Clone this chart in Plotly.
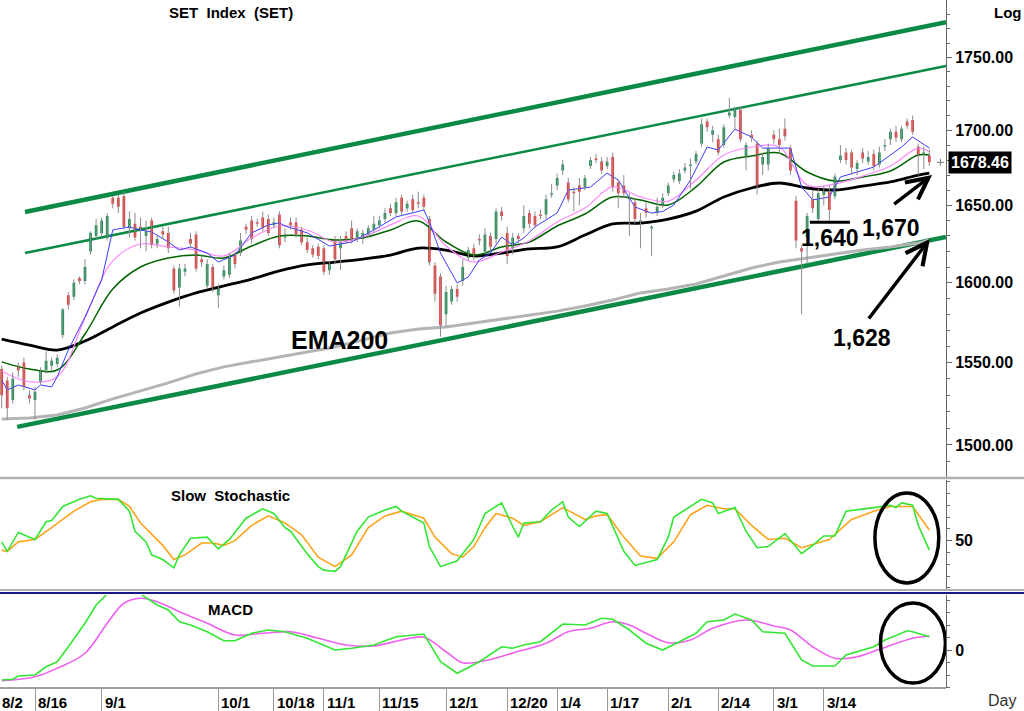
import numpy as np
import plotly.graph_objects as go

FONT = 'Liberation Sans, Arial, sans-serif'

# -------------------------------
# 1. DATA  (bar index 0 = 8/2)
# -------------------------------
bars = list(range(3, 171))

opens = [1546, 1539, 1527, 1548, 1550, 1530, 1527, 1538, 1545, 1548,
         1549, 1567, 1592, 1591, 1603, 1601, 1620, 1630, 1632, 1629,
         1655, 1655, 1656, 1635, 1638, 1636, 1630, 1640, 1625, 1633,
         1632, 1609, 1597, 1607, 1628, 1631, 1615, 1598, 1610, 1592,
         1604, 1605, 1618, 1619, 1636, 1640, 1639, 1642, 1641, 1637,
         1644, 1629, 1639, 1639, 1634, 1626, 1622, 1623, 1622, 1608,
         1628, 1622, 1630, 1635, 1628, 1628, 1631, 1634, 1637, 1641,
         1648, 1645, 1655, 1648, 1654, 1652, 1655, 1641, 1611, 1604,
         1580, 1588, 1596, 1601, 1616, 1622, 1628, 1620, 1630, 1628,
         1646, 1632, 1622, 1630, 1635, 1645, 1643, 1644, 1644, 1657,
         1663, 1673, 1665, 1659, 1663, 1662, 1676, 1681, 1679, 1676,
         1682, 1665, 1663, 1654, 1652, 1638, 1648, 1635, 1645, 1650,
         1658, 1667, 1666, 1673, 1676, 1679, 1691, 1706, 1697, 1694,
         1690, 1710, 1709, 1714, 1682, 1697, 1691, 1677, 1677, 1697,
         1694, 1701, 1688, 1653, 1622, 1629, 1654, 1641, 1657, 1659,
         1656, 1680, 1685, 1685, 1674, 1685, 1679, 1684, 1677, 1689,
         1694, 1699, 1694, 1706, 1707, 1689, 1684, 1683]
highs = [1548, 1541, 1544, 1550, 1553, 1533, 1535, 1547, 1557, 1553,
         1555, 1584, 1594, 1602, 1604, 1615, 1633, 1641, 1642, 1645,
         1656, 1657, 1659, 1646, 1645, 1642, 1640, 1642, 1630, 1636,
         1636, 1611, 1612, 1612, 1632, 1633, 1618, 1615, 1612, 1599,
         1611, 1619, 1620, 1632, 1638, 1643, 1641, 1646, 1644, 1642,
         1646, 1635, 1642, 1642, 1636, 1629, 1624, 1625, 1624, 1614,
         1630, 1630, 1633, 1640, 1635, 1634, 1637, 1643, 1643, 1648,
         1651, 1655, 1657, 1653, 1657, 1659, 1657, 1643, 1613, 1606,
         1598, 1598, 1599, 1615, 1623, 1625, 1631, 1635, 1632, 1648,
         1649, 1636, 1632, 1632, 1650, 1647, 1646, 1647, 1657, 1664,
         1671, 1680, 1668, 1662, 1668, 1670, 1682, 1684, 1682, 1682,
         1685, 1667, 1670, 1658, 1655, 1645, 1652, 1637, 1655, 1658,
         1665, 1672, 1674, 1678, 1681, 1686, 1708, 1708, 1703, 1697,
         1704, 1722, 1716, 1716, 1692, 1700, 1693, 1685, 1691, 1700,
         1701, 1708, 1690, 1656, 1624, 1645, 1660, 1661, 1663, 1663,
         1671, 1690, 1688, 1687, 1680, 1688, 1686, 1687, 1689, 1694,
         1701, 1703, 1703, 1708, 1710, 1691, 1689, 1687]
lows = [1522, 1515, 1525, 1541, 1533, 1525, 1515, 1536, 1543, 1545,
        1547, 1565, 1583, 1589, 1599, 1599, 1618, 1628, 1630, 1627,
        1648, 1645, 1634, 1629, 1627, 1622, 1620, 1622, 1622, 1628,
        1619, 1593, 1585, 1604, 1622, 1607, 1610, 1596, 1594, 1584,
        1602, 1603, 1609, 1617, 1631, 1625, 1636, 1633, 1630, 1635,
        1622, 1626, 1634, 1629, 1624, 1619, 1616, 1615, 1605, 1605,
        1612, 1608, 1625, 1625, 1626, 1625, 1629, 1632, 1635, 1639,
        1643, 1643, 1643, 1646, 1645, 1648, 1646, 1611, 1588, 1566,
        1572, 1586, 1588, 1598, 1614, 1614, 1624, 1618, 1620, 1625,
        1640, 1612, 1618, 1625, 1632, 1635, 1635, 1641, 1641, 1655,
        1660, 1670, 1652, 1646, 1650, 1660, 1674, 1678, 1671, 1674,
        1659, 1648, 1655, 1630, 1638, 1622, 1642, 1617, 1643, 1648,
        1656, 1665, 1664, 1671, 1661, 1677, 1689, 1699, 1692, 1683,
        1688, 1708, 1700, 1692, 1673, 1692, 1657, 1670, 1673, 1691,
        1684, 1693, 1670, 1622, 1580, 1612, 1645, 1639, 1650, 1640,
        1654, 1678, 1677, 1670, 1670, 1678, 1677, 1673, 1675, 1686,
        1690, 1692, 1692, 1701, 1697, 1670, 1674, 1676]
closes = [1530, 1522, 1540, 1545, 1535, 1528, 1532, 1545, 1551, 1551,
          1553, 1583, 1586, 1600, 1601, 1610, 1632, 1637, 1640, 1643,
          1651, 1649, 1636, 1641, 1629, 1634, 1633, 1624, 1628, 1631,
          1622, 1595, 1609, 1609, 1625, 1609, 1613, 1612, 1597, 1597,
          1608, 1617, 1612, 1627, 1634, 1628, 1638, 1635, 1632, 1639,
          1624, 1631, 1637, 1631, 1626, 1621, 1618, 1617, 1607, 1612,
          1615, 1626, 1627, 1627, 1633, 1632, 1635, 1638, 1640, 1645,
          1645, 1652, 1646, 1651, 1647, 1651, 1649, 1613, 1593, 1573,
          1594, 1596, 1591, 1610, 1621, 1617, 1627, 1631, 1623, 1646,
          1643, 1617, 1629, 1628, 1643, 1638, 1637, 1643, 1654, 1658,
          1668, 1677, 1654, 1658, 1659, 1668, 1680, 1680, 1673, 1679,
          1662, 1658, 1658, 1655, 1641, 1640, 1645, 1636, 1649, 1655,
          1663, 1670, 1671, 1675, 1677, 1684, 1704, 1702, 1700, 1685,
          1702, 1712, 1714, 1694, 1690, 1695, 1663, 1682, 1688, 1694,
          1690, 1696, 1673, 1627, 1620, 1643, 1648, 1658, 1661, 1647,
          1669, 1683, 1680, 1675, 1678, 1681, 1682, 1676, 1685, 1690,
          1699, 1695, 1701, 1703, 1699, 1683, 1685, 1678.46]

date_pos = [0, 9, 21, 42, 52, 61, 71, 83, 94, 103, 112, 123, 132, 142, 151]
date_text = ['8/2', '8/16', '9/1', '10/1', '10/18', '11/1', '11/15', '12/1',
             '12/20', '1/4', '1/17', '2/1', '2/14', '3/1', '3/14']

# moving averages, read every 5 bars
ema_pos = list(range(3, 169, 5)) + [170]
ema_green = [1550.4, 1546.0, 1545.4, 1567.7, 1596.0, 1610.0, 1615.8, 1617.7, 1615.8, 1623.5,
             1630.0, 1630.0, 1627.4, 1628.7, 1633.9, 1639.8, 1626.1, 1617.7, 1622.9, 1626.1,
             1636.5, 1644.3, 1655.5, 1653.5, 1650.2, 1662.1, 1678.7, 1682.7, 1684.7, 1672.0,
             1666.0, 1668.7, 1672.7, 1683.3, 1683.3]
ema_pink = [1544.8, 1538.1, 1541.2, 1577.7, 1613.9, 1624.8, 1622.9, 1620.9, 1617.1, 1628.7,
            1636.5, 1633.9, 1626.1, 1629.3, 1637.2, 1643.0, 1623.5, 1613.2, 1619.6, 1626.8,
            1639.1, 1648.2, 1662.1, 1655.5, 1652.8, 1666.7, 1683.3, 1688.7, 1688.7, 1663.4,
            1664.1, 1669.3, 1676.0, 1688.0, 1685.3]
ema_black = [1564.5, 1560.8, 1557.7, 1563.3, 1572.1, 1580.8, 1587.7, 1593.5, 1597.9, 1602.3,
             1607.5, 1611.3, 1613.2, 1615.1, 1617.7, 1622.2, 1620.9, 1617.1, 1619.0, 1621.6,
             1622.9, 1630.6, 1637.8, 1638.4, 1641.0, 1646.2, 1655.5, 1661.4, 1664.7, 1661.4,
             1660.1, 1662.7, 1665.4, 1670.0, 1671.3]
ema200 = [1515.6, 1516.2, 1518.0, 1522.2, 1527.7, 1532.6, 1537.5, 1543.0, 1547.3, 1550.4,
          1553.4, 1556.5, 1559.6, 1563.9, 1568.3, 1570.8, 1572.1, 1574.5, 1577.0, 1579.5,
          1582.0, 1585.2, 1589.0, 1593.5, 1596.0, 1599.2, 1604.3, 1609.4, 1613.2, 1615.8,
          1618.4, 1620.9, 1622.9, 1625.4, 1627.4]

blue_pos = [3, 4, 6, 9, 10, 12, 13, 15, 18, 21, 23, 26, 28, 30, 33, 35, 37, 40, 42, 45,
            48, 51, 53, 54, 58, 62, 66, 70, 74, 79, 80, 82, 85, 87, 89, 91, 93, 95, 97, 99,
            103, 105, 109, 112, 114, 117, 120, 122, 124, 127, 130, 132, 135, 138, 140, 143,
            145, 147, 149, 152, 154, 157, 160, 165, 167, 170]
ema_blue = [1539.3, 1533.2, 1536.2, 1533.2, 1536.2, 1535.0, 1541.2, 1557.7, 1578.3, 1601.7,
            1633.9, 1635.9, 1633.9, 1632.6, 1626.1, 1620.9, 1622.9, 1619.0, 1613.2, 1617.7,
            1632.0, 1637.2, 1638.5, 1636.5, 1632.0, 1623.5, 1626.1, 1633.9, 1642.4, 1646.9,
            1639.1, 1619.0, 1599.8, 1603.6, 1614.5, 1619.0, 1629.3, 1624.2, 1628.7, 1635.9,
            1645.0, 1660.0, 1662.0, 1671.3, 1666.7, 1648.9, 1644.9, 1646.0, 1650.2, 1666.7,
            1688.7, 1686.7, 1700.8, 1695.4, 1688.0, 1688.0, 1688.0, 1662.1, 1653.5, 1655.5,
            1668.7, 1672.0, 1675.3, 1688.7, 1695.4, 1688.0]

# trend channel (start / end points)
chan_pos = [7.2, 173]
chan_upper = [1645.6, 1774.7]
chan_mid = [1619.0, 1744.0]
chan_low_pos = [5.8, 173]
chan_lower = [1510.8, 1629.3]

support_pos = [148.5, 155.7]
support_level = 1639

# slow stochastic
stoch_k_pos = [3, 4, 6, 8, 9, 11, 12, 14, 16, 17, 19, 20, 24, 26, 27, 29, 30, 32, 34, 35,
               37, 40, 42, 44, 47, 50, 52, 54, 55, 58, 60, 61, 63, 64, 67, 69, 72, 74, 75, 79,
               80, 82, 85, 88, 90, 93, 95, 96, 97, 100, 102, 104, 105, 107, 110, 112, 115, 117,
               121, 123, 124, 127, 129, 131, 132, 135, 137, 139, 141, 144, 147, 149, 151, 153,
               155, 160, 163, 164, 165, 167, 168, 170]
stoch_k = [49, 41, 57, 53, 51, 66, 67, 79, 83, 85, 88, 86, 85, 75, 58, 49, 38, 34, 27, 38,
           52, 53, 43, 51, 69, 77, 73, 61, 58, 39, 28, 25, 24, 28, 58, 70, 76, 79, 75, 65,
           45, 28, 33, 51, 73, 82, 62, 53, 65, 66, 76, 83, 70, 62, 75, 73, 41, 29,
           34, 53, 70, 79, 85, 82, 73, 78, 58, 44, 45, 56, 39, 46, 54, 54,
           75, 78, 80, 78, 82, 80, 63, 42]
stoch_d_pos = [3, 4, 6, 9, 12, 16, 19, 21, 24, 26, 28, 32, 34, 36, 39, 41, 43, 45, 48, 51,
               54, 57, 60, 63, 66, 69, 72, 75, 79, 81, 84, 86, 88, 90, 92, 95, 97, 100, 104, 108,
               110, 112, 115, 118, 121, 124, 127, 130, 133, 135, 138, 141, 144, 147, 152, 156,
               160, 163, 167, 170]
stoch_d = [42, 41, 49, 51, 61, 75, 83, 85, 85, 79, 65, 46, 34, 38, 48, 48, 46, 50, 63, 71,
           65, 55, 36, 28, 38, 61, 71, 75, 69, 53, 39, 36, 45, 61, 73, 69, 63, 66, 78, 68,
           71, 72, 53, 37, 35, 49, 72, 80, 77, 77, 63, 51, 52, 44, 51, 68,
           75, 79, 79, 59]

# MACD
macd_pos = [3, 5, 6, 9, 11, 13, 15, 18, 20, 22, 25, 28, 31, 33, 35, 37, 40, 43, 45, 48,
            51, 54, 58, 63, 66, 70, 74, 79, 82, 85, 89, 93, 95, 97, 100, 104, 108, 111, 113, 116,
            119, 122, 125, 128, 130, 133, 135, 138, 140, 144, 147, 149, 153, 155, 160, 162, 166,
            167, 170]
macd = [-12, -11.7, -10.4, -10, -6.7, -4.7, 1.3, 10.7, 18, 22.4, 26, 22.4, 18, 16, 11.3, 10,
        7.3, 3.7, 3.7, 6.7, 8, 7.3, 4.7, 0, 0.7, 2, 5.3, 6.4, -4.7, -9.3, -4.7, 1.3, 0.7, 2,
        3.3, 10.4, 10, 12.7, 12.3, 8, 2.7, 0, 3.3, 6.7, 11.3, 12, 14.4, 12, 7.3, 6.7, -4, -6.4,
        -6.4, -2, 1.3, 4, 7.7, 7.3, 5.3]
signal_pos = [3, 9, 13, 18, 22, 25, 28, 31, 35, 40, 45, 50, 55, 60, 65, 70, 75, 79, 83, 86,
              90, 95, 101, 105, 109, 113, 116, 119, 123, 127, 131, 137, 142, 145, 149, 153, 157,
              161, 167, 170]
signal = [-12.3, -10.7, -7.3, -1.3, 10.7, 18.7, 20.7, 19.3, 15.3, 10.7, 6, 6.7, 7.3, 4.7, 2,
          1.6, 4, 5.1, -0.7, -5.1, -4.3, -1.2, 2.7, 7.3, 8.7, 11.3, 10, 6.7, 2.9, 4, 8.7, 12,
          9.6, 8, 1.3, -3.3, -2.7, 0.3, 4.7, 5.6]

price_ticks = [1500, 1550, 1600, 1650, 1700, 1750]

# -------------------------------
# 2. PRICE PANEL
# -------------------------------
fig = go.Figure()

CH = '#0b8a45'
fig.add_trace(go.Scatter(x=chan_pos, y=chan_upper, mode='lines', line=dict(color=CH, width=4.5)))
fig.add_trace(go.Scatter(x=chan_pos, y=chan_mid, mode='lines', line=dict(color=CH, width=2.5)))
fig.add_trace(go.Scatter(x=chan_low_pos, y=chan_lower, mode='lines', line=dict(color=CH, width=4.5)))

fig.add_trace(go.Scatter(x=ema_pos, y=ema200, mode='lines', line=dict(color='#b4b4b4', width=3)))
fig.add_trace(go.Scatter(x=ema_pos, y=ema_black, mode='lines',
                         line=dict(color='black', width=2.8, shape='spline')))
fig.add_trace(go.Scatter(x=ema_pos, y=ema_green, mode='lines',
                         line=dict(color='#006400', width=1.5, shape='spline')))
fig.add_trace(go.Scatter(x=ema_pos, y=ema_pink, mode='lines',
                         line=dict(color='#ff88ff', width=1.2, shape='spline')))
fig.add_trace(go.Scatter(x=blue_pos, y=ema_blue, mode='lines', line=dict(color='#3a3aff', width=1)))

# wicks
wx, wy = [], []
for b, h, l in zip(bars, highs, lows):
    wx += [b, b, None]
    wy += [l, h, None]
fig.add_trace(go.Scatter(x=wx, y=wy, mode='lines', line=dict(color='#8c8c8c', width=1)))

fig.add_trace(go.Candlestick(
    x=bars, open=opens, high=highs, low=lows, close=closes,
    increasing=dict(fillcolor='#12934f', line=dict(color='#12934f', width=0)),
    decreasing=dict(fillcolor='#ff3030', line=dict(color='#ff3030', width=0)),
    whiskerwidth=0
))

fig.add_trace(go.Scatter(x=support_pos, y=[support_level, support_level], mode='lines',
                         line=dict(color='black', width=3)))
fig.add_trace(go.Scatter(x=[172], y=[closes[-1]], mode='markers',
                         marker=dict(symbol='cross-thin', size=5, line=dict(color='#777', width=1))))

# -------------------------------
# 3. STOCHASTIC + MACD
# -------------------------------
fig.add_trace(go.Scatter(x=stoch_d_pos, y=stoch_d, yaxis='y2', mode='lines',
                         line=dict(color='#ffa31a', width=1.6)))
fig.add_trace(go.Scatter(x=stoch_k_pos, y=stoch_k, yaxis='y2', mode='lines',
                         line=dict(color='#33e633', width=1.6)))
fig.add_trace(go.Scatter(x=signal_pos, y=signal, yaxis='y3', mode='lines',
                         line=dict(color='#f060f0', width=1.6, shape='spline')))
fig.add_trace(go.Scatter(x=macd_pos, y=macd, yaxis='y3', mode='lines',
                         line=dict(color='#33e633', width=1.6)))

# -------------------------------
# 4. LAYOUT
# -------------------------------
axis_common = dict(side='right', anchor='x', showline=True, linecolor='#666', linewidth=1,
                   ticks='outside', tickcolor='#666', showgrid=False, zeroline=False,
                   tickfont=dict(family=FONT, size=16, color='black'))

fig.update_layout(
    width=1024, height=711, margin=dict(l=0, r=0, t=0, b=0),
    paper_bgcolor='white', plot_bgcolor='white', showlegend=False,
    font=dict(family=FONT, color='black'),
    xaxis=dict(domain=[0, 946 / 1024], range=[2.7, 173], anchor='y3',
               tickvals=date_pos, showticklabels=False, ticks='outside', ticklen=23,
               tickcolor='#9a9a9a', showgrid=False, zeroline=False,
               rangeslider=dict(visible=False)),
    yaxis=dict(domain=[1 - 478 / 711, 1], type='log',
               range=[np.log10(1480.4), np.log10(1790.4)],
               tickvals=price_ticks, ticktext=[f'<b>{v:.2f}</b>' for v in price_ticks],
               ticklen=5,
               minor=dict(tickvals=[v for v in range(1490, 1790, 10) if v % 50],
                          ticks='outside', ticklen=3, tickcolor='#666'),
               **axis_common),
    yaxis2=dict(domain=[1 - 590 / 711, 1 - 480 / 711], range=[8.2, 101.4],
                tickvals=[50], ticktext=['<b>50</b>'], ticklen=5,
                minor=dict(dtick=10, tick0=0, ticks='outside', ticklen=3, tickcolor='#666'),
                **axis_common),
    yaxis3=dict(domain=[1 - 688 / 711, 1 - 595 / 711], range=[-15.2, 22],
                tickvals=[0], ticktext=['<b>0</b>'], ticklen=5,
                minor=dict(dtick=5, tick0=0, ticks='outside', ticklen=3, tickcolor='#666'),
                **axis_common),
)

# panel separators
for yp, col, w, x1 in [(1 - 478 / 711, '#b0b0b0', 2.5, 1), (1 - 590 / 711, '#b0b0b0', 2, 1),
                       (1 - 593 / 711, '#16168a', 2, 1), (1 - 688 / 711, '#a0a0a0', 2, 946 / 1024)]:
    fig.add_shape(type='line', xref='paper', yref='paper', x0=0, x1=x1, y0=yp, y1=yp,
                  line=dict(color=col, width=w))

# circles on the oscillators
fig.add_shape(type='circle', xref='x', yref='y2', x0=160.2, x1=171.7, y0=14.2, y1=90.4,
              line=dict(color='black', width=3.5))
fig.add_shape(type='circle', xref='x', yref='y3', x0=161.2, x1=172.9, y0=-13.2, y1=18.8,
              line=dict(color='black', width=3.5))

# date labels (the first date lies left of the visible bars, so pin it to the edge)
for p, t in zip(date_pos, date_text):
    if p < 3:
        fig.add_annotation(x=0, xref='paper', xanchor='left', y=1 - 702 / 711,
                           yref='paper', yanchor='middle', text=f'<b>{t}</b>', showarrow=False,
                           font=dict(size=15, color='black'))
    else:
        fig.add_annotation(x=p, xref='x', xanchor='left', xshift=1, y=1 - 702 / 711,
                           yref='paper', yanchor='middle', text=f'<b>{t}</b>', showarrow=False,
                           font=dict(size=15, color='black'))

big = dict(size=23, color='black', family=FONT)
notes = [
    dict(x=231 / 1024, y=1 - 12 / 711, xref='paper', yref='paper',
         text='<b>SET\u00a0 Index\u00a0 (SET)</b>', font=dict(size=15)),
    dict(x=1008 / 1024, y=1 - 12 / 711, xref='paper', yref='paper',
         text='<b>Log</b>', font=dict(size=15)),
    dict(x=230 / 1024, y=1 - 495 / 711, xref='paper', yref='paper',
         text='<b>Slow\u00a0 Stochastic</b>', font=dict(size=15)),
    dict(x=230 / 1024, y=1 - 609 / 711, xref='paper', yref='paper',
         text='<b>MACD</b>', font=dict(size=15)),
    dict(x=1002 / 1024, y=1 - 700 / 711, xref='paper', yref='paper',
         text='Day', font=dict(size=16, color='#333')),
    dict(x=63.9, y=np.log10(1564), xref='x', yref='y', text='<b>EMA200</b>',
         font=dict(size=25, color='black', family=FONT)),
    dict(x=152.1, y=np.log10(1628.7), xref='x', yref='y', text='<b>1,640</b>', font=big),
    dict(x=163.1, y=np.log10(1635.2), xref='x', yref='y', text='<b>1,670</b>', font=big),
    dict(x=157.9, y=np.log10(1565.2), xref='x', yref='y', text='<b>1,628</b>', font=big),
]
for n in notes:
    fig.add_annotation(showarrow=False, xanchor='center', yanchor='middle', **n)

# last price box
fig.add_annotation(x=948 / 1024, xref='paper', xanchor='left', y=np.log10(closes[-1]), yref='y',
                   yanchor='middle', text=f'<b>{closes[-1]:.2f}</b>', showarrow=False,
                   bgcolor='black', borderpad=2, font=dict(size=16, color='white'))

# arrows
for tip_x, tip_y, tail_x, tail_y in [(170.5, 1670, 163.4, 1650), (170.1, 1628, 158.9, 1576.4)]:
    fig.add_annotation(x=tip_x, y=np.log10(tip_y), ax=tail_x, ay=np.log10(tail_y),
                       xref='x', yref='y', axref='x', ayref='y', text='',
                       showarrow=True, arrowhead=5, arrowsize=1.2, arrowwidth=3.5,
                       arrowcolor='black')

fig.write_html('out.html', config={'displayModeBar': False},
               post_script="document.body.style.margin='0px';")
